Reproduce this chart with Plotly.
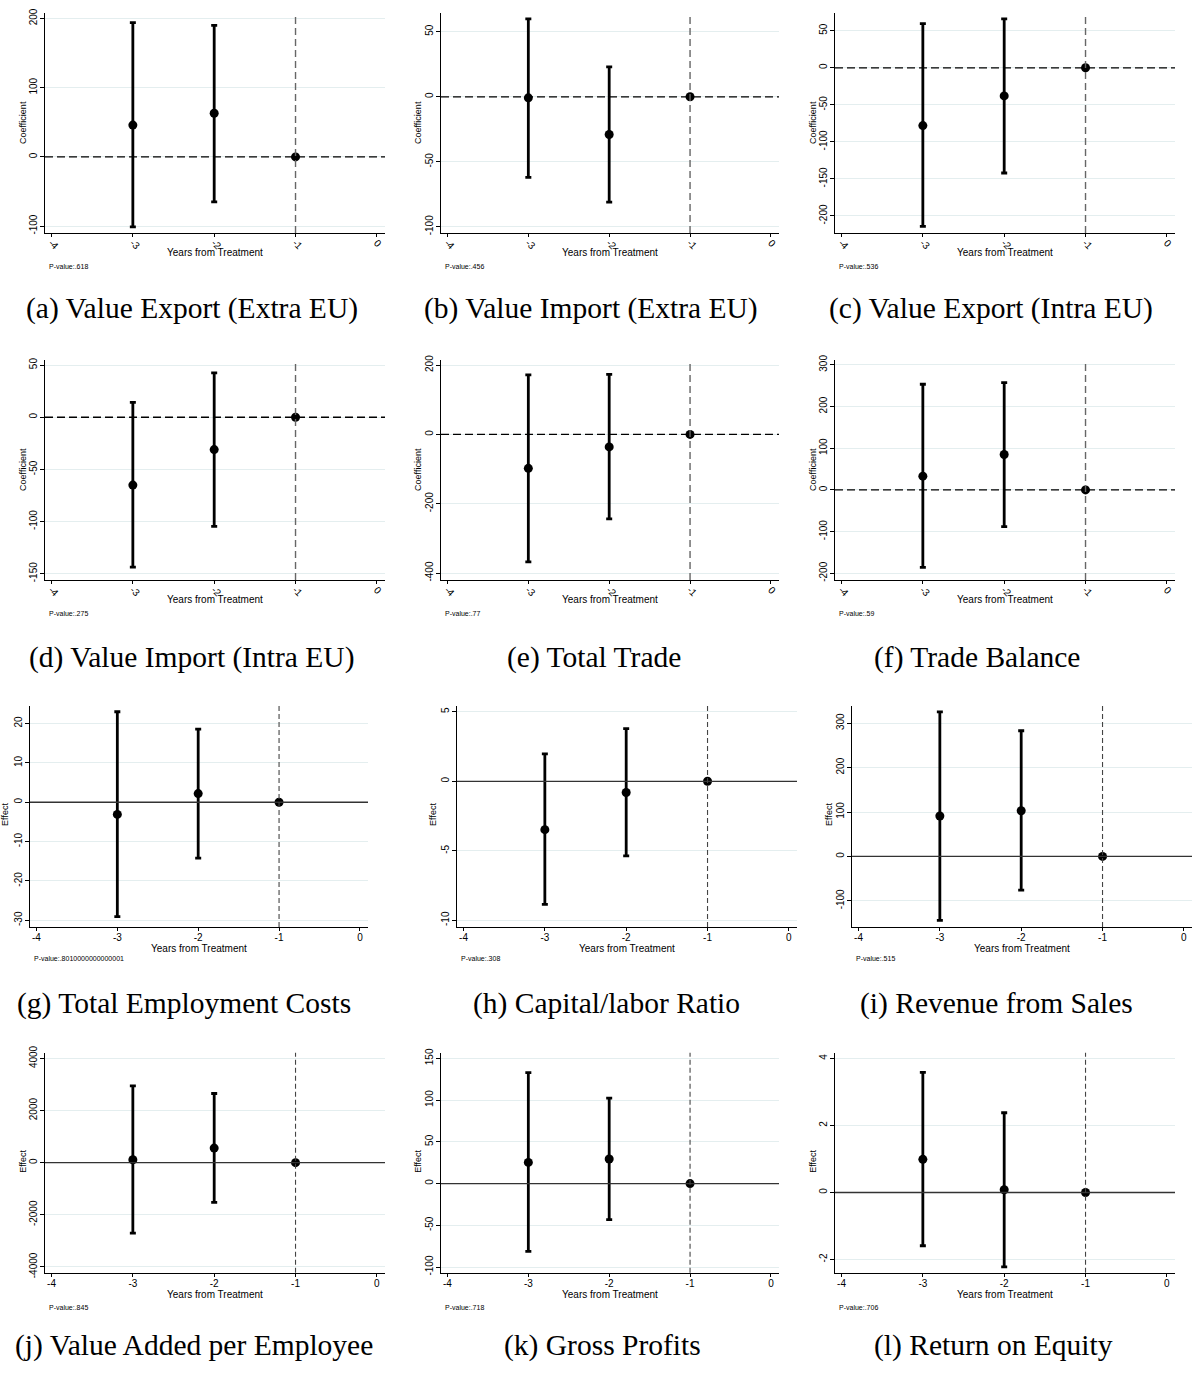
import plotly.graph_objects as go

# -----------------------
# Data
# -----------------------

years = [-3, -2, -1]
x_ticks = [-4, -3, -2, -1, 0]

captions = [
    "(a) Value Export (Extra EU)", "(b) Value Import (Extra EU)", "(c) Value Export (Intra EU)",
    "(d) Value Import (Intra EU)", "(e) Total Trade", "(f) Trade Balance",
    "(g) Total Employment Costs", "(h) Capital/labor Ratio", "(i) Revenue from Sales",
    "(j) Value Added per Employee", "(k) Gross Profits", "(l) Return on Equity",
]
y_titles = ["Coefficient"] * 6 + ["Effect"] * 6
p_values = [".618", ".456", ".536", ".275", ".77", ".59",
            ".8010000000000001", ".308", ".515", ".845", ".718", ".706"]

coef_m3 = [46, -0.8, -78, -65, -98, 33, -3.1, -3.48, 91, 114, 25.4, 0.99]
low_m3 = [-101, -62, -214, -143.6, -368, -186, -29.1, -8.86, -143.8, -2705, -81.3, -1.59]
high_m3 = [194, 60, 59.7, 14.3, 172, 253.6, 23, 1.98, 325.5, 2946, 133, 3.585]

coef_m2 = [63, -29, -38, -31, -36, 85, 2.2, -0.81, 102.8, 559, 29.4, 0.08]
low_m2 = [-65, -81, -142, -104.6, -244, -88, -14.2, -5.36, -76, -1524, -43.3, -2.22]
high_m2 = [190, 23, 66, 42.5, 173, 257.5, 18.6, 3.79, 283, 2654, 102.4, 2.38]

coef_m1 = [0, 0, 0, 0, 0, 0, 0, 0, 0, 0, 0, 0]

y_ticks = [
    [-100, 0, 100, 200],
    [-100, -50, 0, 50],
    [-200, -150, -100, -50, 0, 50],
    [-150, -100, -50, 0, 50],
    [-400, -200, 0, 200],
    [-200, -100, 0, 100, 200, 300],
    [-30, -20, -10, 0, 10, 20],
    [-10, -5, 0, 5],
    [-100, 0, 100, 200, 300],
    [-4000, -2000, 0, 2000, 4000],
    [-100, -50, 0, 50, 100, 150],
    [-2, 0, 2, 4],
]
y_ranges = [
    (-110, 208), (-104.8, 64.5), (-223, 74),
    (-156, 55), (-420, 215), (-216, 312),
    (-31.7, 24.5), (-10.48, 5.43), (-158.7, 339),
    (-4229, 4216), (-107, 156.7), (-2.4, 4.17),
]

# -----------------------
# Layout (pixel positions)
# -----------------------

W, H = 1192, 1377
SANS = "Liberation Sans, Arial, sans-serif"
SERIF = "Liberation Serif, Times New Roman, serif"

row_tb = [(6, 228), (356, 578), (705, 928), (1055, 1277)]
cols_std = [(45, 385), (441, 779), (835, 1175)]
cols_row3 = [(30, 368), (457, 797), (852, 1192)]
xtitle_y = [248, 598, 950, 1299]
pval_y = [262, 612, 960, 1312]
ytitle_x_std = [23, 418, 813]
ytitle_x_row3 = [5, 433, 829]
ytitle_y = [117, 467, 815, 1165]
caption_x = [192, 591, 991, 191, 594, 977, 184, 606, 996, 194, 602, 993]
caption_y = [304, 656, 1005, 1350]


def fx(p):
    return p / W


def fy(p):
    return 1 - p / H


def tick_text(v):
    return str(v)


fig = go.Figure()
shapes = []
annotations = []

for i in range(12):
    r, c = divmod(i, 3)
    n = "" if i == 0 else str(i + 1)
    left, right = cols_row3[c] if r == 2 else cols_std[c]
    top, bottom = row_tb[r]

    # confidence intervals for -3 and -2
    fig.add_trace(go.Scatter(
        x=years[:2], y=[coef_m3[i], coef_m2[i]],
        mode="markers",
        marker=dict(color="black", size=9),
        error_y=dict(
            type="data", symmetric=False,
            array=[high_m3[i] - coef_m3[i], high_m2[i] - coef_m2[i]],
            arrayminus=[coef_m3[i] - low_m3[i], coef_m2[i] - low_m2[i]],
            color="black", thickness=2.8, width=3,
        ),
        xaxis="x" + n, yaxis="y" + n, showlegend=False, hoverinfo="skip",
    ))
    # reference period
    fig.add_trace(go.Scatter(
        x=[years[2]], y=[coef_m1[i]],
        mode="markers", marker=dict(color="black", size=9),
        xaxis="x" + n, yaxis="y" + n, showlegend=False, hoverinfo="skip",
    ))

    fig.update_layout(**{
        "xaxis" + n: dict(
            domain=[fx(left), fx(right)], anchor="y" + n,
            range=[-4.08, 0.1],
            tickvals=x_ticks, ticktext=[tick_text(v) for v in x_ticks],
            tickangle=45 if r < 2 else 0,
            ticklabelstandoff=-4 if r < 2 else -2,
            showline=True, linecolor="black", linewidth=1.3,
            ticks="outside", ticklen=3, tickcolor="black",
            showgrid=False, zeroline=False,
            tickfont=dict(family=SANS, size=10, color="black"),
        ),
        "yaxis" + n: dict(
            domain=[fy(bottom), fy(top)], anchor="x" + n,
            range=list(y_ranges[i]),
            tickvals=y_ticks[i], ticktext=[tick_text(v) for v in y_ticks[i]],
            tickangle=-90, ticklabelstandoff=-1,
            showline=True, linecolor="black", linewidth=1.3,
            ticks="outside", ticklen=4, tickcolor="black",
            showgrid=True, gridcolor="#e4eeef", gridwidth=1,
            zeroline=False,
            tickfont=dict(family=SANS, size=10, color="black"),
        ),
    })

    xr = "x" + n
    yr = "y" + n
    if r < 2:
        shapes.append(dict(type="line", xref=xr + " domain", yref=yr,
                           x0=0, x1=1, y0=0, y1=0,
                           line=dict(color="black", width=1.3, dash="8px,4px")))
        shapes.append(dict(type="line", xref=xr, yref=yr + " domain",
                           x0=-1, x1=-1, y0=0, y1=1,
                           line=dict(color="#666666", width=1.4, dash="7px,4px")))
    else:
        shapes.append(dict(type="line", xref=xr + " domain", yref=yr,
                           x0=0, x1=1, y0=0, y1=0,
                           line=dict(color="#333333", width=1.3)))
        shapes.append(dict(type="line", xref=xr, yref=yr + " domain",
                           x0=-1, x1=-1, y0=0, y1=1,
                           line=dict(color="#444444", width=1.1, dash="5px,3px")))

    # axis titles, p-value and caption
    ytx = ytitle_x_row3[c] if r == 2 else ytitle_x_std[c]
    annotations.append(dict(
        text=y_titles[i], x=fx(ytx), y=fy(ytitle_y[r]), xref="paper", yref="paper",
        textangle=-90, showarrow=False, xanchor="center", yanchor="middle",
        font=dict(family=SANS, size=9, color="black"),
    ))
    annotations.append(dict(
        text="Years from Treatment", x=fx((left + right) / 2), y=fy(xtitle_y[r]),
        xref="paper", yref="paper", showarrow=False,
        xanchor="center", yanchor="middle",
        font=dict(family=SANS, size=10, color="black"),
    ))
    annotations.append(dict(
        text="P-value:" + p_values[i], x=fx(left + 2), y=fy(pval_y[r]),
        xref="paper", yref="paper", showarrow=False,
        xanchor="left", yanchor="middle",
        font=dict(family=SANS, size=7, color="black"),
    ))
    annotations.append(dict(
        text=captions[i], x=fx(caption_x[i]), y=fy(caption_y[r]),
        xref="paper", yref="paper", showarrow=False,
        xanchor="center", yanchor="middle",
        font=dict(family=SERIF, size=29.5, color="black"),
    ))

fig.update_layout(
    width=W, height=H,
    margin=dict(l=0, r=0, t=0, b=0),
    paper_bgcolor="white", plot_bgcolor="white",
    shapes=shapes, annotations=annotations,
    showlegend=False,
)

# page body has a default 8px margin; drop it so the figure sits at the corner
fig.write_html("out.html", config={"displayModeBar": False},
               post_script="document.body.style.margin = '0';")
